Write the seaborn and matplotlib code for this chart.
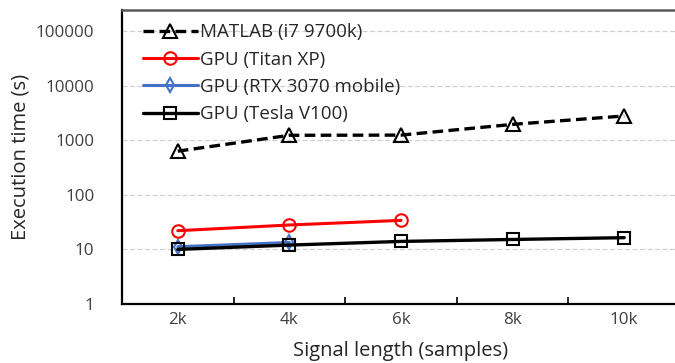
import numpy as np
import pandas as pd
import matplotlib
matplotlib.use("Agg")
import matplotlib.pyplot as plt
import seaborn as sns

# Signal lengths (thousands of samples) and tick labels
lengths = [2, 4, 6, 8, 10]
length_labels = ["2k", "4k", "6k", "8k", "10k"]

# Execution times in seconds
matlab_i7 = [630, 1230, 1240, 1950, 2780]
titan_xp = [22, 28, 34]
rtx3070_mobile = [11.2, 13.4]
tesla_v100 = [10, 12, 14, 15.2, 16.4]

series = [
    ("MATLAB (i7 9700k)", lengths, matlab_i7,
     dict(color="black", linestyle=(0, (3.2, 1.6)), lw=2.4, marker="^", ms=9.5)),
    ("GPU (Titan XP)", lengths[:3], titan_xp,
     dict(color="#FF0000", linestyle="-", lw=2.2, marker="o", ms=9)),
    ("GPU (RTX 3070 mobile)", lengths[:2], rtx3070_mobile,
     dict(color="#4472C4", linestyle="-", lw=2.2, marker="d", ms=7.5)),
    ("GPU (Tesla V100)", lengths, tesla_v100,
     dict(color="black", linestyle="-", lw=2.4, marker="s", ms=9)),
]

sns.set_theme(style="white")
plt.rcParams["font.family"] = ["Open Sans", "DejaVu Sans"]

fig = plt.figure(figsize=(6.75, 3.63), dpi=100)
ax = fig.add_axes([122 / 675, 59 / 363, 558 / 675, 294 / 363])

for name, xs, ys, st in series:
    df = pd.DataFrame({"x": xs, "y": ys})
    sns.lineplot(data=df, x="x", y="y", ax=ax, label=name,
                 color=st["color"], linestyle=st["linestyle"], lw=st["lw"],
                 marker=st["marker"], markersize=st["ms"],
                 markerfacecolor="none", markeredgecolor=st["color"],
                 markeredgewidth=1.5, errorbar=None)

ax.set_yscale("log")
ax.set_ylim(1, 10 ** 5.385)
ax.set_yticks([1, 10, 100, 1000, 10000, 100000])
ax.set_yticklabels(["1", "10", "100", "1000", "10000", "100000"])
ax.yaxis.set_minor_locator(matplotlib.ticker.NullLocator())
ax.tick_params(axis="y", length=0, labelsize=12.2, colors="#404040", pad=20)

ax.set_xlim(1, 11)
ax.set_xticks(lengths)
ax.set_xticklabels(length_labels)
ax.set_xticks([3, 5, 7, 9], minor=True)
ax.tick_params(axis="x", which="major", length=0, labelsize=12.2,
               colors="#404040", pad=6)
ax.tick_params(axis="x", which="minor", direction="in", length=5,
               width=1.2, color="black", bottom=True)

ax.grid(axis="y", color="#d0d0d0", linestyle=(0, (4, 2)), lw=0.9)
ax.set_axisbelow(True)

for side in ("left", "bottom"):
    ax.spines[side].set_color("black")
    ax.spines[side].set_linewidth(1.6)
ax.spines["top"].set_color("#595959")
ax.spines["top"].set_linewidth(1.8)
ax.spines["right"].set_visible(False)

ax.set_xlabel("Signal length (samples)", fontsize=14.5, color="#262626", labelpad=9)
ax.set_ylabel("Execution time (s)", fontsize=14.5, color="#262626", labelpad=4)

leg = ax.legend(loc="upper left", frameon=False, fontsize=13.5,
                handlelength=2.9, handletextpad=0.15, labelspacing=0.5,
                borderaxespad=0.2, bbox_to_anchor=(0.018, 0.993))
for t in leg.get_texts():
    t.set_color("#262626")

fig.savefig("out.png", dpi=100)
